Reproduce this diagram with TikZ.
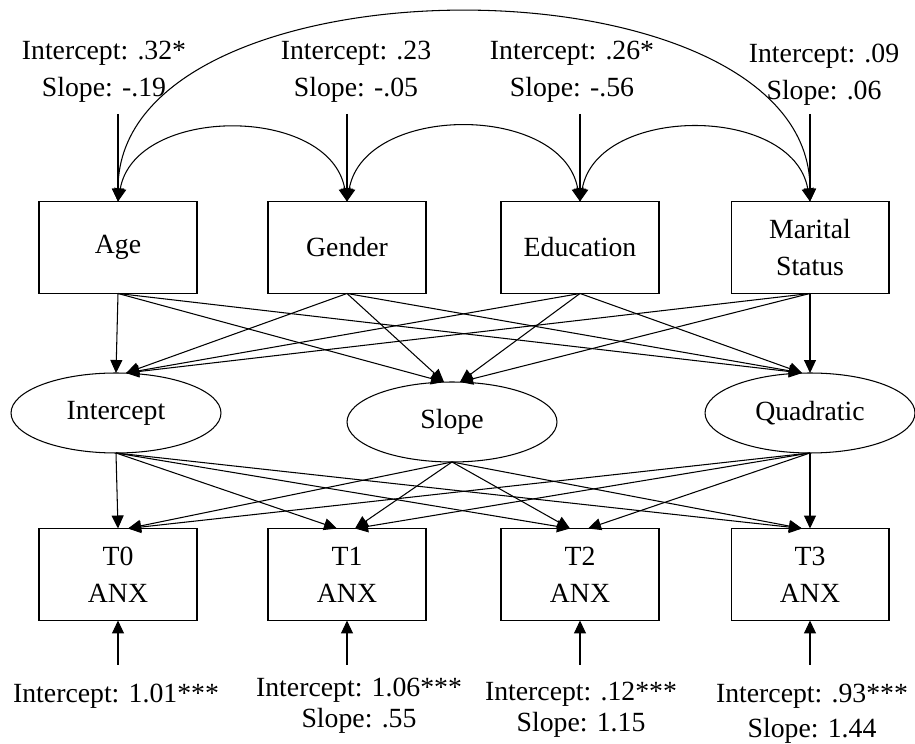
\documentclass[tikz,border=0pt]{standalone}
\usepackage{fontspec}
\setmainfont{Liberation Serif}
\usetikzlibrary{arrows.meta,shapes.geometric}

\begin{document}
\begin{tikzpicture}[x=0.02cm,y=0.02cm,font=\fontsize{15.8}{21}\selectfont,line width=0.6pt,
	>={Triangle[length=0.26cm,width=0.24cm]},
	box/.style={draw,rectangle,align=center,inner sep=0,outer sep=0,minimum width=3.16cm,minimum height=1.84cm},
	latent/.style={draw,ellipse,inner sep=0,outer sep=0,minimum width=4.2cm,minimum height=1.6cm},
	est/.style={align=center,inner sep=0,outer sep=0,anchor=north}]
	\useasboundingbox (0,0) rectangle (915,743);
	% predictors
	\node[box] (1) at (118,495.5) {Age};
	\node[box] (2) at (347,495.5) {Gender};
	\node[box] (3) at (580,495.5) {Education};
	\node[box] (4) at (810,495.5) {Marital\\Status};
	% growth factors
	\node[latent] (5) at (116,330) {Intercept};
	\node[latent] (6) at (452,321) {Slope};
	\node[latent] (7) at (810,330) {Quadratic};
	% anxiety waves
	\node[box] (8) at (118,168.5) {T0\\ANX};
	\node[box] (9) at (347,168.5) {T1\\ANX};
	\node[box] (10) at (580,168.5) {T2\\ANX};
	\node[box] (11) at (810,168.5) {T3\\ANX};
	% estimates
	\node[est] (e1) at (104,702) {Intercept: .32*\\Slope: -.19};
	\node[est] (e2) at (356,702) {Intercept: .23\\Slope: -.05};
	\node[est] (e3) at (572,702) {Intercept: .26*\\Slope: -.56};
	\node[est] (e4) at (824,699) {Intercept: .09\\Slope: .06};
	\node[est] (e8) at (116,59) {Intercept: 1.01***};
	\node[est] (e9) at (359,65) {Intercept: 1.06***\\[-3.4pt]Slope: .55};
	\node[est] (e10) at (581,61) {Intercept: .12***\\[-3.4pt]Slope: 1.15};
	\node[est] (e11) at (812,59) {Intercept: .93***\\[-1.2pt]Slope: 1.44};
	\coordinate (t1) at (118,629);
	\coordinate (t2) at (347,629);
	\coordinate (t3) at (580,629);
	\coordinate (t4) at (810,629);
	\coordinate (b8) at (118,78);
	\coordinate (b9) at (347,78);
	\coordinate (b10) at (580,78);
	\coordinate (b11) at (810,78);
	\draw[->] (t1) -- (1.north);
	\draw[->] (t2) -- (2.north);
	\draw[->] (t3) -- (3.north);
	\draw[->] (t4) -- (4.north);
	\draw[->] (b8) -- (8.south);
	\draw[->] (b9) -- (9.south);
	\draw[->] (b10) -- (10.south);
	\draw[->] (b11) -- (11.south);
	% covariances
	\draw[<->] (1.north) to[out=80,in=100,looseness=1.1] (2.north);
	\draw[<->] (2.north) to[out=80,in=100,looseness=1.1] (3.north);
	\draw[<->] (3.north) to[out=80,in=100,looseness=1.1] (4.north);
	\draw[<->] (1.north) to[out=90,in=90,looseness=0.93] (4.north);
	% predictors -> growth factors
	\draw[->] (1.south) -- (5.north);
	\draw[->] (1.south) -- ([xshift=-0.16cm]6.north);
	\draw[->] (1.south) -- ([xshift=-0.16cm]7.north);
	\draw[->] (2.south) -- ([xshift=0.2cm]5.north);
	\draw[->] (2.south) -- ([xshift=-0.16cm]6.north);
	\draw[->] (2.south) -- ([xshift=-0.16cm]7.north);
	\draw[->] (3.south) -- ([xshift=0.2cm]5.north);
	\draw[->] (3.south) -- ([xshift=0.16cm]6.north);
	\draw[->] (3.south) -- ([xshift=-0.16cm]7.north);
	\draw[->] (4.south) -- ([xshift=0.2cm]5.north);
	\draw[->] (4.south) -- ([xshift=0.16cm]6.north);
	\draw[->] (4.south) -- (7.north);
	% growth factors -> waves
	\draw[->] (5.south) -- (8.north);
	\draw[->] (5.south) -- ([xshift=-0.2cm]9.north);
	\draw[->] (5.south) -- ([xshift=-0.2cm]10.north);
	\draw[->] (5.south) -- ([xshift=-0.16cm]11.north);
	\draw[->] (6.south) -- ([xshift=0.2cm]8.north);
	\draw[->] (6.south) -- ([xshift=0.16cm]9.north);
	\draw[->] (6.south) -- ([xshift=-0.2cm]10.north);
	\draw[->] (6.south) -- ([xshift=-0.16cm]11.north);
	\draw[->] (7.south) -- ([xshift=0.2cm]8.north);
	\draw[->] (7.south) -- ([xshift=0.16cm]9.north);
	\draw[->] (7.south) -- ([xshift=0.16cm]10.north);
	\draw[->] (7.south) -- (11.north);
\end{tikzpicture}
\end{document}
